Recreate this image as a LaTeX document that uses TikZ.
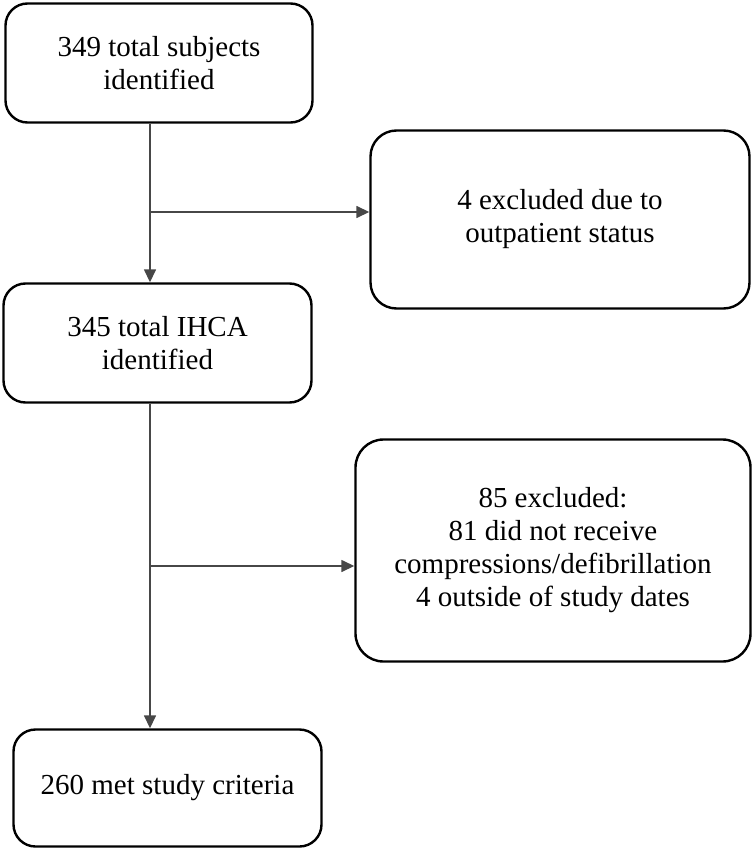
\documentclass[tikz,border=0pt]{standalone}
\usepackage{fontspec}
\setmainfont{Liberation Serif}
\usetikzlibrary{arrows.meta}
\begin{document}
\begin{tikzpicture}[x=1pt,y=-1pt,
  box/.style={draw=black,line width=2.4pt,rounded corners=22pt,fill=white,
    align=center,inner sep=0pt,font=\fontsize{29}{33}\selectfont},
  conn/.style={draw=black!72,line width=1.5pt,-{Triangle[length=13pt,width=12pt]}},
  seg/.style={draw=black!72,line width=1.5pt}]
\useasboundingbox (0,0) rectangle (754,853);
\node[box,minimum width=307pt,minimum height=119pt] (b1) at (159,63) {349 total subjects\\identified};
\node[box,minimum width=379pt,minimum height=178pt,rounded corners=26pt] (b2) at (560,219.5) {4 excluded due to\\outpatient status};
\node[box,minimum width=308pt,minimum height=119pt] (b3) at (157.5,343) {345 total IHCA\\identified};
\node[box,minimum width=395pt,minimum height=222pt,rounded corners=28pt] (b4) at (553,550.5) {85 excluded:\\81 did not receive\\compressions/defibrillation\\4 outside of study dates};
\node[box,minimum width=308pt,minimum height=117pt] (b5) at (167.5,788) {260 met study criteria};
\coordinate (j1) at (150,212);
\coordinate (j2) at (150,566);
\draw[conn] (b1.south -| j1) -- (b3.north -| j1);
\draw[conn] (j1) -- (b2.west |- j1);
\draw[conn] (b3.south -| j2) -- (b5.north -| j2);
\draw[conn] (j2) -- (b4.west |- j2);
\end{tikzpicture}
\end{document}
